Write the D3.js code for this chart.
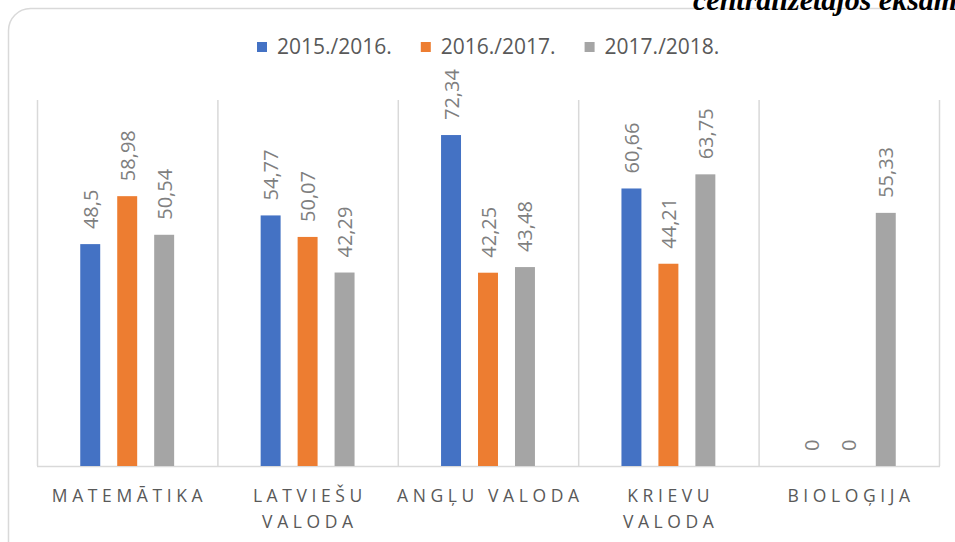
<!DOCTYPE html>
<html>
<head>
<meta charset="utf-8">
<script src="https://cdn.jsdelivr.net/npm/d3@7"></script>
<style>
  body { margin: 0; background: #fff; }
  svg { display: block; }
</style>
</head>
<body>
<div class="chart"></div>
<script>
// Chart data
const categories = [['MATEMĀTIKA'], ['LATVIEŠU', 'VALODA'], ['ANGĻU VALODA'], ['KRIEVU', 'VALODA'], ['BIOLOĢIJA']];
const seriesNames = ['2015./2016.', '2016./2017.', '2017./2018.'];
const values2015 = [48.5, 54.77, 72.34, 60.66, 0];
const values2016 = [58.98, 50.07, 42.25, 44.21, 0];
const values2017 = [50.54, 42.29, 43.48, 63.75, 55.33];
const colors = ['#4472C4', '#ED7D31', '#A5A5A5'];

const W = 955, H = 542;
const plot = {left: 37, right: 939, top: 100, bottom: 466};
const textColor = '#595959';
const labelColor = '#7f7f7f';
const fontFamily = '"Open Sans", sans-serif';

const svg = d3.select('.chart').append('svg')
    .attr('width', W)
    .attr('height', H);

// outer rounded frame
svg.append('rect')
    .attr('x', 8.5).attr('y', 8.5)
    .attr('width', 970).attr('height', 560)
    .attr('rx', 22)
    .attr('fill', '#fff')
    .attr('stroke', '#d9d9d9')
    .attr('stroke-width', 1.5);

// heading text that runs off the top right edge (as in the source)
svg.append('text')
    .attr('x', 693).attr('y', 10)
    .attr('font-family', '"Liberation Serif", serif')
    .attr('font-style', 'italic')
    .attr('font-weight', 'bold')
    .attr('font-size', 30)
    .attr('fill', '#000')
    .text('centralizētajos eksāmenos');

const catKeys = categories.map(c => c.join(' '));
const rows = catKeys.map((k, i) => ({key: k, lines: categories[i],
  vals: [values2015[i], values2016[i], values2017[i]]}));

const x0 = d3.scaleBand()
    .domain(catKeys)
    .range([plot.left, plot.right])
    .paddingInner(0).paddingOuter(0);

const x1 = d3.scaleBand()
    .domain(seriesNames)
    .range([0, x0.bandwidth()])
    .paddingInner(0.46)
    .paddingOuter(1.17);

const y = d3.scaleLinear()
    .domain([0, 80])
    .range([plot.bottom, plot.top]);

// category separators
const seps = catKeys.map(k => x0(k)).concat([plot.right]);
svg.append('g').selectAll('line')
  .data(seps)
  .join('line')
    .attr('x1', d => d + 0.5).attr('x2', d => d + 0.5)
    .attr('y1', plot.top).attr('y2', plot.bottom)
    .attr('stroke', '#d9d9d9')
    .attr('stroke-width', 1.5);

// baseline
svg.append('line')
    .attr('x1', plot.left).attr('x2', plot.right + 1)
    .attr('y1', plot.bottom + 0.5).attr('y2', plot.bottom + 0.5)
    .attr('stroke', '#d9d9d9')
    .attr('stroke-width', 1.5);

const groups = svg.append('g').selectAll('g')
  .data(rows)
  .join('g')
    .attr('transform', d => `translate(${x0(d.key)},0)`);

const cells = d => d.vals.map((v, i) => ({series: seriesNames[i], value: v, color: colors[i]}));

groups.selectAll('rect')
  .data(cells)
  .join('rect')
    .attr('x', d => x1(d.series))
    .attr('y', d => y(d.value))
    .attr('width', x1.bandwidth())
    .attr('height', d => y(0) - y(d.value))
    .attr('fill', d => d.color);

// rotated value labels
groups.selectAll('text.val')
  .data(cells)
  .join('text')
    .attr('class', 'val')
    .attr('transform', d => `translate(${x1(d.series) + x1.bandwidth() / 2 + 7.5},${y(d.value) - 15}) rotate(-90)`)
    .attr('font-family', fontFamily)
    .attr('font-size', 20)
    .attr('fill', labelColor)
    .text(d => String(d.value).replace('.', ','));

// category labels
const spacing = 4.6;
const catText = svg.append('g').selectAll('text')
  .data(rows)
  .join('text')
    .attr('y', 502)
    .attr('text-anchor', 'middle')
    .attr('font-family', fontFamily)
    .attr('font-size', 17.5)
    .attr('letter-spacing', spacing)
    .attr('fill', textColor);

catText.selectAll('tspan')
  .data(d => d.lines.map(l => ({line: l, cx: x0(d.key) + x0.bandwidth() / 2 + spacing / 2})))
  .join('tspan')
    .attr('x', d => d.cx)
    .attr('dy', (d, i) => i === 0 ? 0 : 26)
    .text(d => d.line);

// legend
const legend = svg.append('g');
let lx = 257;
seriesNames.forEach((name, i) => {
  legend.append('rect')
      .attr('x', lx).attr('y', 42)
      .attr('width', 10).attr('height', 10)
      .attr('fill', colors[i]);
  const t = legend.append('text')
      .attr('x', lx + 20).attr('y', 54)
      .attr('font-family', fontFamily)
      .attr('font-size', 21)
      .attr('fill', textColor)
      .text(name);
  lx += 20 + t.node().getComputedTextLength() + 29;
});
</script>
</body>
</html>
